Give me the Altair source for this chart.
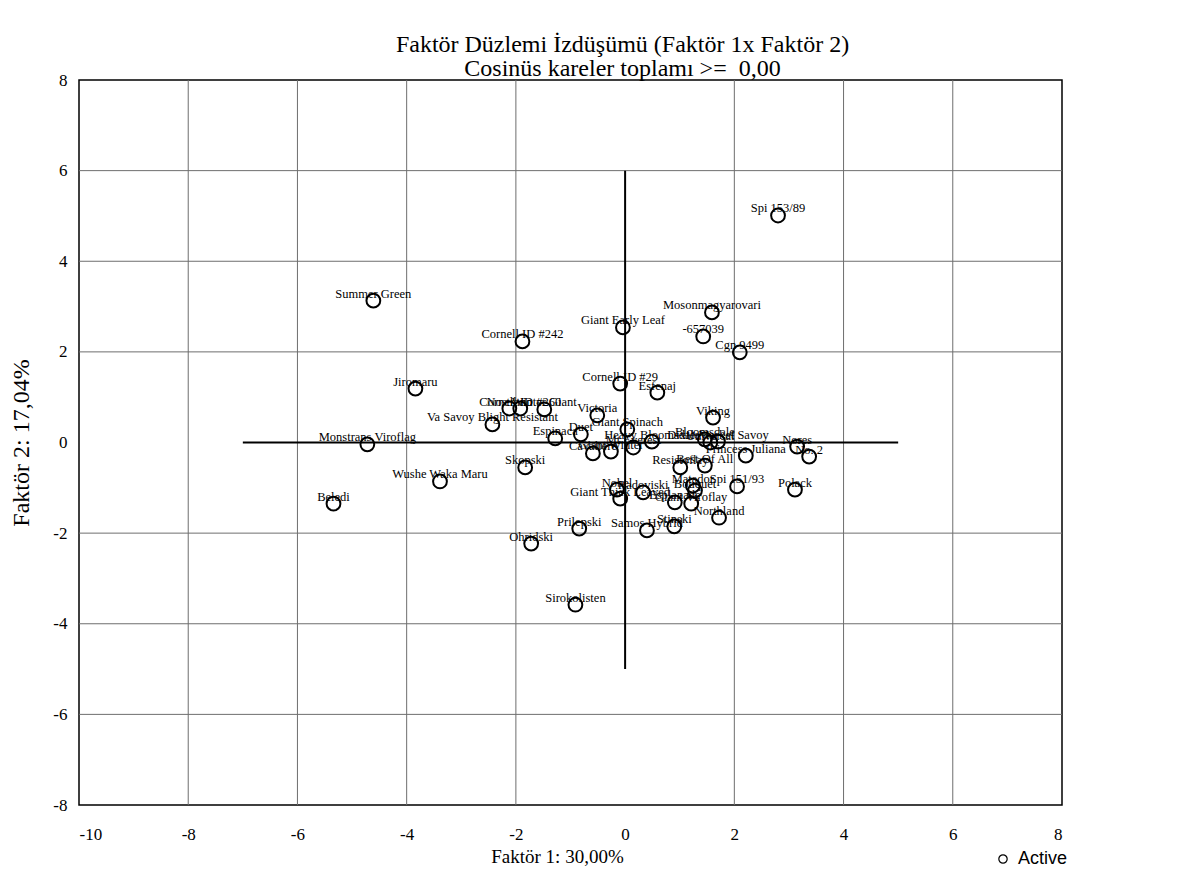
import altair as alt
import pandas as pd

names = [
    "Spi 153/89", "Summer Green", "Mosonmagyarovari", "Giant Early Leaf", "-657039",
    "Cornell ID #242", "Cgn 9499", "Cornell ID #29", "Esfenaj", "Jiromaru",
    "Nostrano", "Cornell ID #260", "Winter Giant", "Va Savoy Blight Resistant", "Victoria",
    "Viking", "Giant Spinach", "Duet", "Espinaca", "Monstrans Viroflag",
    "Heavy Bloomsdale", "Mt Everest", "Giant Winter", "Cavaliere", "Bloomsdale",
    "Universal", "Dixie Market Savoy", "Princess Juliana", "Nores", "No. 2",
    "Resistoflay", "Best Of All", "Skopski", "Wushe Waka Maru", "Beledi",
    "Polack", "Spi 151/93", "Matador", "Bouquet", "Nobel",
    "Radoviski", "Giant Thick Leaved", "Esplanade", "Giant Viroflay", "Northland",
    "Prilepski", "Samos Hybrid", "Stinski", "Ohridski", "Sirokolisten",
]
factor1 = [
    2.80, -4.61, 1.59, -0.04, 1.43,
    -1.88, 2.10, -0.09, 0.59, -3.84,
    -2.12, -1.92, -1.48, -2.43, -0.51,
    1.61, 0.04, -0.81, -1.28, -4.72,
    0.49, 0.15, -0.26, -0.59, 1.46,
    1.56, 1.70, 2.21, 3.15, 3.37,
    1.01, 1.46, -1.83, -3.39, -5.34,
    3.11, 2.05, 1.24, 1.28, -0.15,
    0.33, -0.09, 0.91, 1.21, 1.72,
    -0.84, 0.40, 0.90, -1.72, -0.91,
]
factor2 = [
    5.01, 3.13, 2.87, 2.54, 2.34,
    2.23, 1.99, 1.30, 1.10, 1.19,
    0.75, 0.75, 0.73, 0.40, 0.60,
    0.55, 0.29, 0.18, 0.09, -0.04,
    0.02, -0.11, -0.20, -0.24, 0.07,
    0.00, 0.02, -0.29, -0.09, -0.31,
    -0.55, -0.51, -0.55, -0.86, -1.35,
    -1.04, -0.97, -0.95, -1.06, -1.04,
    -1.10, -1.24, -1.32, -1.35, -1.66,
    -1.90, -1.94, -1.85, -2.23, -3.58,
]

x_ticks = [-10, -8, -6, -4, -2, 0, 2, 4, 6, 8]
y_ticks = [-8, -6, -4, -2, 0, 2, 4, 6, 8]
grid_x = [-8, -6, -4, -2, 2, 4, 6]
grid_y = [-6, -4, -2, 2, 4, 6]
hline_x = [-7, 5]
vline_y = [-5, 6]

title_lines = ["Faktör Düzlemi İzdüşümü (Faktör 1x Faktör 2)",
               "Cosinüs kareler toplamı >=\u00a0\u00a00,00"]

SERIF = "Liberation Serif"

df = pd.DataFrame({"name": names, "f1": factor1, "f2": factor2, "kind": ["Active"] * len(names)})
gx = pd.DataFrame({"v": grid_x})
gy = pd.DataFrame({"v": grid_y})
hl = pd.DataFrame({"a": [hline_x[0]], "b": [hline_x[1]], "c": [0]})
vl = pd.DataFrame({"a": [vline_y[0]], "b": [vline_y[1]], "c": [0]})

xs = alt.Scale(domain=[-10, 8], nice=False, zero=False)
ys = alt.Scale(domain=[-8, 8], nice=False, zero=False)

LBL = "toString(datum.value)"

xaxis = alt.Axis(values=x_ticks, grid=False, ticks=False, domain=False, labelFont=SERIF,
                 labelFontSize=17, labelColor="black", labelPadding=21, labelExpr=LBL,
                 title="Faktör 1: 30,00%", titleFont=SERIF, titleFontSize=19,
                 titleFontWeight="normal", titleColor="black", titlePadding=5, titleX=478)
yaxis = alt.Axis(values=y_ticks, grid=False, ticks=False, domain=False, labelFont=SERIF,
                 labelFontSize=17, labelColor="black", labelPadding=12, labelExpr=LBL,
                 title="Faktör 2: 17,04%", titleFont=SERIF, titleFontSize=24,
                 titleFontWeight="normal", titleColor="black", titlePadding=19)

gridv = alt.Chart(gx).mark_rule(color="#6e6e6e", strokeWidth=1).encode(x=alt.X("v:Q", scale=xs))
gridh = alt.Chart(gy).mark_rule(color="#6e6e6e", strokeWidth=1).encode(y=alt.Y("v:Q", scale=ys))

hline = alt.Chart(hl).mark_rule(color="black", strokeWidth=2).encode(
    x=alt.X("a:Q", scale=xs), x2="b:Q", y=alt.Y("c:Q", scale=ys))
vline = alt.Chart(vl).mark_rule(color="black", strokeWidth=2).encode(
    y=alt.Y("a:Q", scale=ys), y2="b:Q", x=alt.X("c:Q", scale=xs))

pts = alt.Chart(df).mark_point(shape="circle", filled=False, size=190, strokeWidth=2, opacity=1).encode(
    x=alt.X("f1:Q", scale=xs, axis=xaxis),
    y=alt.Y("f2:Q", scale=ys, axis=yaxis),
    color=alt.Color("kind:N", scale=alt.Scale(domain=["Active"], range=["black"]),
                    legend=alt.Legend(title=None, orient="none", legendX=915, legendY=770,
                                      labelFont="Liberation Sans", labelFontSize=18,
                                      labelColor="black", symbolSize=70, symbolStrokeWidth=1.2,
                                      symbolType="circle", labelOffset=6)),
)

labels = alt.Chart(df).mark_text(font=SERIF, fontSize=12.5, dy=-7, color="black").encode(
    x=alt.X("f1:Q", scale=xs), y=alt.Y("f2:Q", scale=ys), text="name:N")

chart = alt.layer(gridv, gridh, hline, vline, labels, pts).properties(
    width=983, height=725,
    padding={"left": 71, "top": 72, "right": 130, "bottom": 80},
    autosize=alt.AutoSizeParams(type="none"),
    title=alt.TitleParams(title_lines,
                          font=SERIF, fontSize=24, fontWeight="normal", color="black",
                          anchor="middle", dx=52, offset=-10, lineHeight=24),
).configure_view(stroke="black", strokeWidth=1.5)

chart.save("out.html", embed_options={"renderer": "svg", "actions": False})
